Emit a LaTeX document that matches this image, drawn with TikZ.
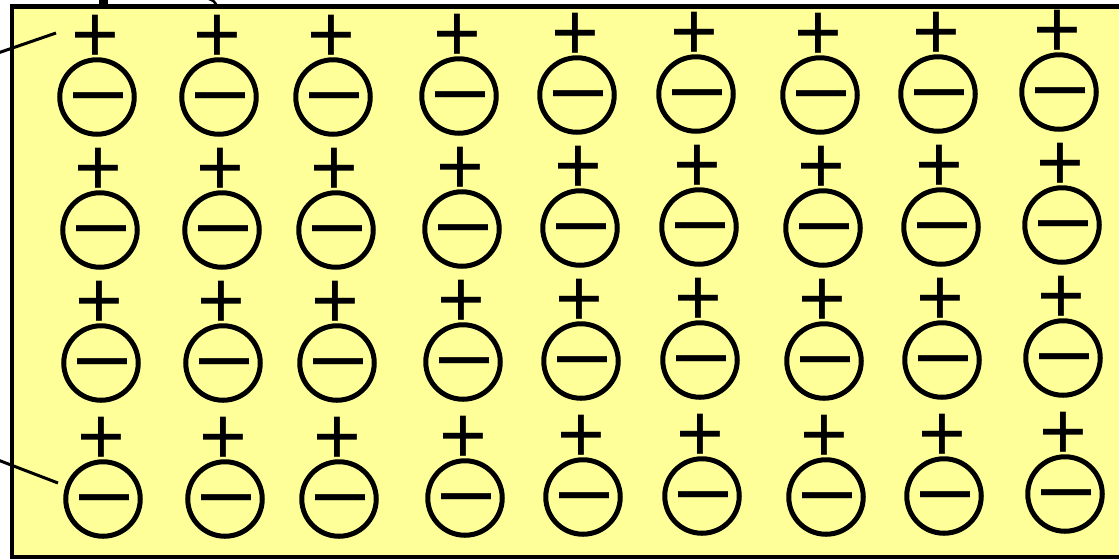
\documentclass[tikz,border=0pt]{standalone}
\usepackage{fontspec}
\setmainfont{Liberation Sans}

\begin{document}
\begin{tikzpicture}[x=1pt,y=-1pt]
% ------------------------------------------------ crystal colors
\definecolor{ion_yellow}{RGB}{255,255,153} %#FFFF99

\tikzset{
  ion/.style={circle,draw=black,line width=5pt,minimum size=74.5pt,inner sep=0pt},
  pluscharge/.style={anchor=base,inner sep=0pt,font=\fontsize{82}{82}\selectfont},
  minuscharge/.style={anchor=base,inner sep=0pt,font=\fontsize{90}{90}\selectfont},
  leader/.style={line width=3pt,color=black}
}

\useasboundingbox (0,0) rectangle (1119,558);

% ------------------------------------------------ the block
\draw [line width=4.5pt,color=black,fill=ion_yellow] (12,6.5) rectangle (1130,557.5);

% bits of the drawing that stand above the block
\fill [color=black] (99,-1) rectangle (108,7);
\draw [line width=2.5pt,color=black] (209,-1) .. controls (214,1) .. (217,6);

% ------------------------------------------------ ions: columns, then rows
\foreach \xb/\dy [count=\i] in {97/0,219/0,333/0,459/-1,577/-2,696/-3,820/-2,938/-3,1059/-5}{
  \foreach \yb/\dx [count=\j] in {97/0,230/3,363/4,499/6}{
    \pgfmathsetmacro{\cx}{\xb+\dx}
    \pgfmathsetmacro{\cy}{\yb+\dy}
    \node[ion] (c-\i-\j) at (\cx,\cy) {};
    \node[minuscharge] (m-\i-\j) at ([shift={(2,21)}]c-\i-\j.center) {–};
    \node[pluscharge] (p-\i-\j) at ([shift={(-2,-35)}]c-\i-\j.center) {+};
  }
}

% ------------------------------------------------ leader lines
\coordinate (top_end) at (-2,53);
\coordinate (top_tip) at (56,33);
\coordinate (bot_end) at (-2,460);
\coordinate (bot_tip) at (58,483);
\draw [leader] (top_end) -- (top_tip);
\draw [leader] (bot_end) -- (bot_tip);

\end{tikzpicture}
\end{document}
